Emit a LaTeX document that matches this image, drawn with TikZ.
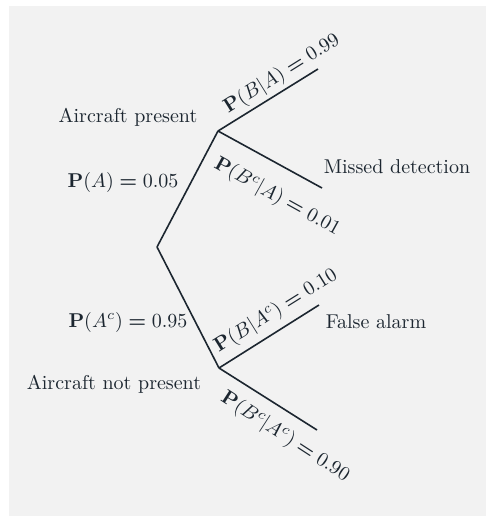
\documentclass[tikz,border=0pt]{standalone}
\usepackage{amsmath,bm}
\definecolor{bg}{RGB}{242,242,242}
\definecolor{ink}{RGB}{28,38,48}
\newcommand{\beq}{\mathrel{\bm{=}}}
\begin{document}
\begin{tikzpicture}[x=0.5pt,y=-0.5pt,
  branch/.style={draw=ink,line width=0.8pt},
  lbl/.style={text=ink,inner sep=0pt,font=\normalsize}]
\useasboundingbox (0,0) rectangle (486,516);
\fill[bg] (9,6) rectangle (486,516);
% tree points
\coordinate (root) at (157,247);
\coordinate (a) at (218,131);
\coordinate (ac) at (219,368);
\coordinate (ba) at (318,69);
\coordinate (bca) at (322,188);
\coordinate (bac) at (319,305);
\coordinate (bcac) at (317,430);
\draw[branch] (root) -- (a);
\draw[branch] (root) -- (ac);
\draw[branch] (a) -- (ba);
\draw[branch] (a) -- (bca);
\draw[branch] (ac) -- (bac);
\draw[branch] (ac) -- (bcac);
% labels
\node[lbl] (tap) at (128,117) {Aircraft present};
\node[lbl] (tpa) at (123,182) {$\mathbf{P}(A) \beq 0.05$};
\node[lbl] (tmd) at (397,167) {Missed detection};
\node[lbl] (tpac) at (128,322) {$\mathbf{P}(A^c) \beq 0.95$};
\node[lbl] (tfa) at (376,322) {False alarm};
\node[lbl] (tanp) at (114,384) {Aircraft not present};
\node[lbl,rotate=32] (tba) at (282,74) {$\mathbf{P}(B|A) \beq 0.99$};
\node[lbl,rotate=-29] (tbca) at (277,197) {$\mathbf{P}(B^c|A) \beq 0.01$};
\node[lbl,rotate=32] (tbac) at (276,311) {$\mathbf{P}(B|A^c) \beq 0.10$};
\node[lbl,rotate=-33] (tbcac) at (285,437) {$\mathbf{P}(B^c|A^c) \beq 0.90$};
\end{tikzpicture}
\end{document}
